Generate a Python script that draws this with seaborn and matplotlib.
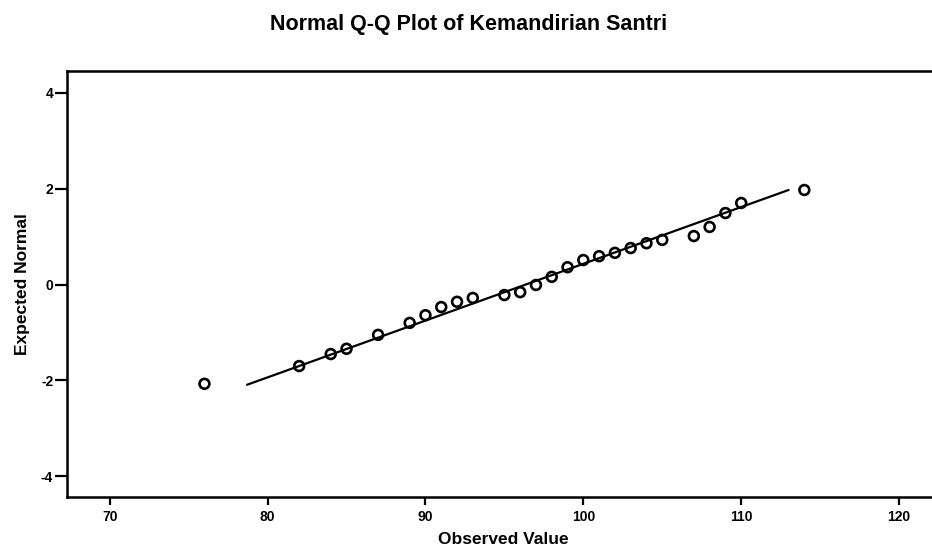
import matplotlib
matplotlib.use("Agg")
import matplotlib.pyplot as plt
import seaborn as sns
import pandas as pd

observed = [76, 82, 84, 85, 87, 89, 90, 91, 92, 93, 95, 96, 97, 98, 99, 100,
            101, 102, 103, 104, 105, 107, 108, 109, 110, 114]
expected = [-2.07, -1.70, -1.45, -1.34, -1.05, -0.80, -0.64, -0.47, -0.36, -0.28,
            -0.22, -0.16, -0.01, 0.16, 0.36, 0.51, 0.59, 0.66, 0.76, 0.86,
            0.93, 1.01, 1.20, 1.49, 1.70, 1.97]
line_x = [78.7, 113.0]
line_y = [-2.09, 1.97]
x_ticks = [70, 80, 90, 100, 110, 120]
y_ticks = [-4, -2, 0, 2, 4]

sns.set_theme(style="white")
plt.rcParams['font.family'] = ['Liberation Sans', 'DejaVu Sans']
plt.rcParams['font.weight'] = 'bold'
plt.rcParams['text.color'] = 'black'
plt.rcParams['axes.labelcolor'] = 'black'
plt.rcParams['xtick.color'] = 'black'
plt.rcParams['ytick.color'] = 'black'

fig = plt.figure(figsize=(9.32, 5.55), dpi=100)
ax = fig.add_axes([0.072, 0.1045, 0.935, 0.7675])

pts = pd.DataFrame({"Observed": observed, "Expected": expected})
ln = pd.DataFrame({"x": line_x, "y": line_y})

sns.lineplot(data=ln, x="x", y="y", ax=ax, color="black", linewidth=1.6)
sns.scatterplot(data=pts, x="Observed", y="Expected", ax=ax, marker="o",
                s=50, facecolor="none", edgecolor="black", linewidth=1.9, zorder=3)

ax.set_xlim(67.3, 122.5)
ax.set_ylim(-4.43, 4.45)
ax.set_xticks(x_ticks)
ax.set_yticks(y_ticks)
ax.set_xticklabels([str(t) for t in x_ticks], fontsize=10, fontweight='bold')
ax.set_yticklabels([str(t) for t in y_ticks], fontsize=10, fontweight='bold')
ax.tick_params(axis='y', direction='out', length=9, width=1.6, pad=1, colors='black', left=True)
ax.tick_params(axis='x', direction='out', length=6, width=1.6, pad=3, colors='black', bottom=True)

for side in ['left', 'bottom', 'top']:
    ax.spines[side].set_visible(True)
    ax.spines[side].set_color('black')
    ax.spines[side].set_linewidth(1.8)
ax.spines['right'].set_visible(False)

ax.set_xlabel("Observed Value", fontsize=12.5, fontweight='bold', labelpad=6, color='black')
ax.set_ylabel("Expected Normal", fontsize=12.5, fontweight='bold', labelpad=8, color='black')
fig.suptitle("Normal Q-Q Plot of Kemandirian Santri", fontsize=15.5,
             fontweight='bold', x=0.503, y=0.975, color='black')

fig.savefig("out.png", dpi=100)
